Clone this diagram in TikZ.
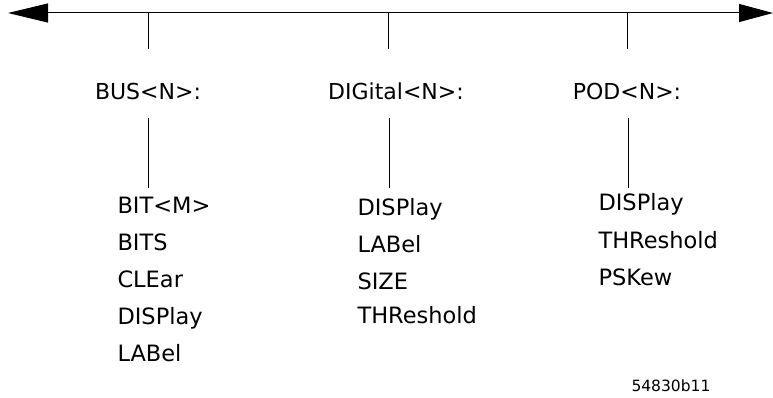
\documentclass[tikz,border=0pt]{standalone}
\usepackage{fontspec}
\setmainfont{DejaVu Sans}
\usetikzlibrary{arrows.meta}
\begin{document}
\begin{tikzpicture}[x=1pt,y=-1pt,line width=1pt,
  hdr/.style={font=\fontsize{22}{26}\selectfont,anchor=base,inner sep=0pt},
  item/.style={font=\fontsize{22.5}{27}\selectfont,anchor=base west,inner sep=0pt},
  tag/.style={font=\fontsize{15.5}{18}\selectfont,anchor=base west,inner sep=0pt}]
\useasboundingbox (0,0) rectangle (773,398);
% main axis
\coordinate (L) at (8,13);
\coordinate (R) at (773,13);
\draw[{Triangle[length=40pt,width=19pt]}-{Triangle[length=34pt,width=18pt]}] (L) -- (R);
% top ticks
\coordinate (t1) at (148,13); \coordinate (b1) at (148,49);
\coordinate (t2) at (388,13); \coordinate (b2) at (388,49);
\coordinate (t3) at (627,13); \coordinate (b3) at (627,49);
\draw (t1) -- (b1); \draw (t2) -- (b2); \draw (t3) -- (b3);
% headers
\node[hdr] (bus) at (148,100) {BUS<N>:};
\node[hdr] (dig) at (396,100) {DIGital<N>:};
\node[hdr] (pod) at (627,100) {POD<N>:};
% header connectors
\coordinate (c1a) at (148,118); \coordinate (c1b) at (148,188);
\coordinate (c2a) at (389,118); \coordinate (c2b) at (389,188);
\coordinate (c3a) at (628,118); \coordinate (c3b) at (628,188);
\draw (c1a) -- (c1b); \draw (c2a) -- (c2b); \draw (c3a) -- (c3b);
% BUS items
\node[item] (b_bit) at (117,213) {BIT<M>};
\node[item] (b_bits) at (117,250) {BITS};
\node[item] (b_cle) at (117,287) {CLEar};
\node[item] (b_dis) at (117,324) {DISPlay};
\node[item] (b_lab) at (117,361) {LABel};
% DIGital items
\node[item] (d_dis) at (357,215) {DISPlay};
\node[item] (d_lab) at (357,252) {LABel};
\node[item] (d_siz) at (357,289) {SIZE};
\node[item] (d_thr) at (357,323) {THReshold};
% POD items
\node[item] (p_dis) at (598,211) {DISPlay};
\node[item] (p_thr) at (598,248) {THReshold};
\node[item] (p_psk) at (598,285) {PSKew};
% figure tag
\node[tag] (fig) at (631,391) {54830b11};
\end{tikzpicture}
\end{document}
